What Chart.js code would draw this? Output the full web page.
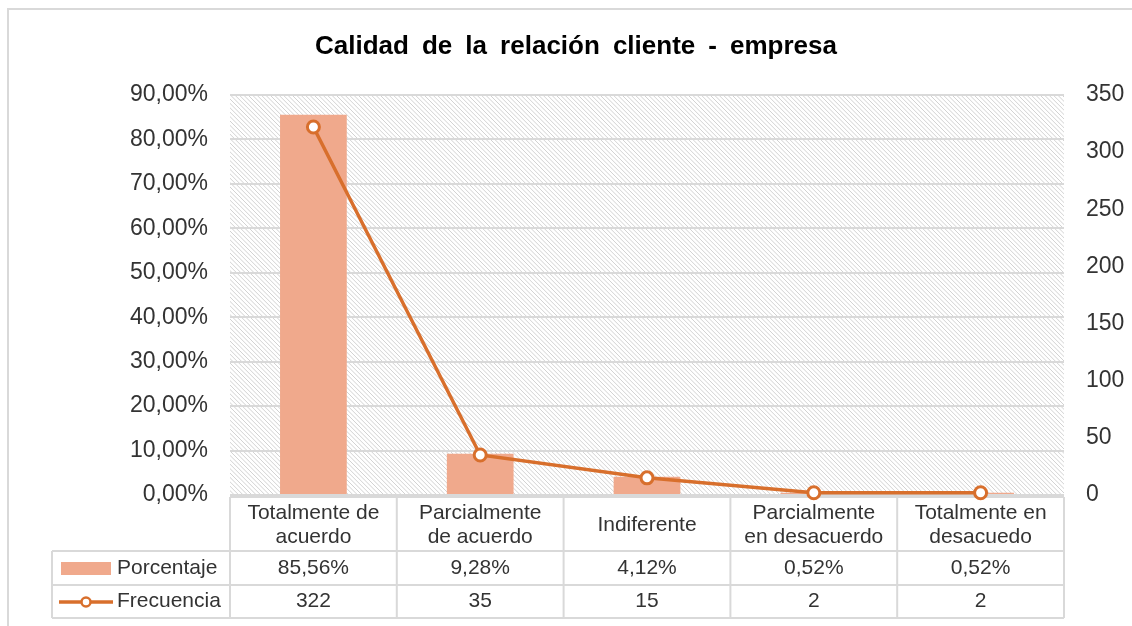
<!DOCTYPE html>
<html>
<head>
<meta charset="utf-8">
<script src="https://cdn.jsdelivr.net/npm/chart.js@4"></script>
<style>
html,body{margin:0;padding:0;background:#fff;}
#wrap{position:relative;width:1132px;height:626px;}
</style>
</head>
<body>
<div id="wrap"><canvas id="c" width="1132" height="626"></canvas></div>
<script>
const titleText = "Calidad de la relación cliente - empresa";
const categories = [
  ["Totalmente de", "acuerdo"],
  ["Parcialmente", "de acuerdo"],
  ["Indiferente"],
  ["Parcialmente", "en desacuerdo"],
  ["Totalmente en", "desacuedo"]
];
const porcentaje = [85.56, 9.28, 4.12, 0.52, 0.52];
const porcentajeLabels = ["85,56%", "9,28%", "4,12%", "0,52%", "0,52%"];
const frecuencia = [322, 35, 15, 2, 2];
const seriesNames = ["Porcentaje", "Frecuencia"];

const BAR_COLOR = "#F0A98C";
const LINE_COLOR = "#D86F2C";
const GRID_COLOR = "#D9D9D9";
const TEXT_COLOR = "#333333";
const FONT = '"Liberation Sans", Arial, sans-serif';

const decorPlugin = {
  id: "decor",
  beforeDraw(chart) {
    const ctx = chart.ctx, a = chart.chartArea;
    ctx.save();
    // outer frame (top + left visible)
    ctx.strokeStyle = GRID_COLOR;
    ctx.lineWidth = 2;
    ctx.beginPath();
    ctx.moveTo(8, 640); ctx.lineTo(8, 9); ctx.lineTo(1140, 9);
    ctx.stroke();
    // hatch background
    ctx.beginPath();
    ctx.rect(a.left, a.top, a.right - a.left, a.bottom - a.top);
    ctx.clip();
    ctx.strokeStyle = "#D2D2D2";
    ctx.lineWidth = 1;
    const H = a.bottom - a.top;
    ctx.beginPath();
    for (let k = -H; k < (a.right - a.left) + 5; k += 4.4) {
      ctx.moveTo(a.left + k, a.top);
      ctx.lineTo(a.left + k + H, a.bottom);
    }
    ctx.stroke();
    ctx.restore();

    // title, words spread as in the reference
    ctx.save();
    ctx.font = "bold 26px " + FONT;
    ctx.fillStyle = "#000";
    ctx.textBaseline = "alphabetic";
    const words = titleText.split(" ");
    const widths = words.map(w => ctx.measureText(w).width);
    const total = 522;
    const sum = widths.reduce((s, v) => s + v, 0);
    const gap = (total - sum) / (words.length - 1);
    let x = 576 - total / 2;
    words.forEach((w, i) => { ctx.fillText(w, x, 54); x += widths[i] + gap; });
    ctx.restore();
  },
  beforeDatasetsDraw(chart) {
    const ctx = chart.ctx, a = chart.chartArea, xs = chart.scales.x;
    const n = categories.length;
    const cw = (a.right - a.left) / n;
    const top = 497, r1 = 551, r2 = 585, bot = 618, legL = 52;
    ctx.save();
    ctx.strokeStyle = GRID_COLOR;
    ctx.lineWidth = 2;
    ctx.beginPath();
    ctx.moveTo(a.left, top); ctx.lineTo(a.right, top);
    ctx.moveTo(legL, r1); ctx.lineTo(a.right, r1);
    ctx.moveTo(legL, r2); ctx.lineTo(a.right, r2);
    ctx.moveTo(legL, bot); ctx.lineTo(a.right, bot);
    ctx.moveTo(legL, r1); ctx.lineTo(legL, bot);
    for (let i = 0; i <= n; i++) {
      const xx = a.left + i * cw;
      ctx.moveTo(xx, top); ctx.lineTo(xx, bot);
    }
    ctx.stroke();

    ctx.font = "21px " + FONT;
    ctx.fillStyle = TEXT_COLOR;
    ctx.textAlign = "center";
    ctx.textBaseline = "middle";
    for (let i = 0; i < n; i++) {
      const cx = xs.getPixelForValue(i);
      const lines = categories[i];
      const mid = (top + r1) / 2 + 1;
      lines.forEach((l, j) => {
        ctx.fillText(l, cx, mid + (j - (lines.length - 1) / 2) * 24);
      });
      ctx.fillText(porcentajeLabels[i], cx, (r1 + r2) / 2);
      ctx.fillText(String(frecuencia[i]), cx, (r2 + bot) / 2);
    }
    ctx.textAlign = "left";
    ctx.fillText(seriesNames[0], 117, (r1 + r2) / 2);
    ctx.fillText(seriesNames[1], 117, (r2 + bot) / 2);
    ctx.fillStyle = BAR_COLOR;
    ctx.fillRect(61, 562, 50, 13);
    ctx.strokeStyle = LINE_COLOR;
    ctx.lineWidth = 3.5;
    ctx.beginPath();
    ctx.moveTo(59, 602); ctx.lineTo(113, 602);
    ctx.stroke();
    ctx.fillStyle = "#fff";
    ctx.lineWidth = 2.5;
    ctx.beginPath();
    ctx.arc(86, 602, 4.5, 0, Math.PI * 2);
    ctx.fill(); ctx.stroke();
    ctx.restore();
  }
};

new Chart(document.getElementById("c"), {
  data: {
    labels: categories,
    datasets: [
      {
        type: "line",
        label: seriesNames[1],
        data: frecuencia,
        yAxisID: "y2",
        borderColor: LINE_COLOR,
        borderWidth: 3.5,
        pointRadius: 6,
        pointBorderWidth: 3,
        pointBackgroundColor: "#fff",
        pointBorderColor: LINE_COLOR,
        tension: 0,
        clip: false,
        order: 0
      },
      {
        type: "bar",
        label: seriesNames[0],
        data: porcentaje,
        yAxisID: "y",
        backgroundColor: BAR_COLOR,
        categoryPercentage: 1,
        barPercentage: 0.4,
        order: 1
      }
    ]
  },
  options: {
    responsive: false,
    animation: false,
    events: [],
    layout: { padding: { top: 95, bottom: 131, left: 0, right: 0 } },
    plugins: { legend: { display: false }, title: { display: false }, tooltip: { enabled: false } },
    scales: {
      x: { display: false, offset: true },
      y: {
        position: "left",
        min: 0, max: 90,
        afterFit(s) { s.width = 230; },
        border: { display: false },
        grid: { color: GRID_COLOR, lineWidth: 2, drawTicks: false },
        ticks: {
          stepSize: 10, padding: 22, color: TEXT_COLOR,
          font: { family: FONT, size: 23 },
          callback: v => v.toFixed(2).replace(".", ",") + "%"
        }
      },
      y2: {
        position: "right",
        min: 0, max: 350,
        afterFit(s) { s.width = 68; },
        border: { display: false },
        grid: { display: false, drawTicks: false },
        ticks: {
          stepSize: 50, padding: 22, color: TEXT_COLOR,
          font: { family: FONT, size: 23 }
        }
      }
    }
  },
  plugins: [decorPlugin]
});
</script>
</body>
</html>
